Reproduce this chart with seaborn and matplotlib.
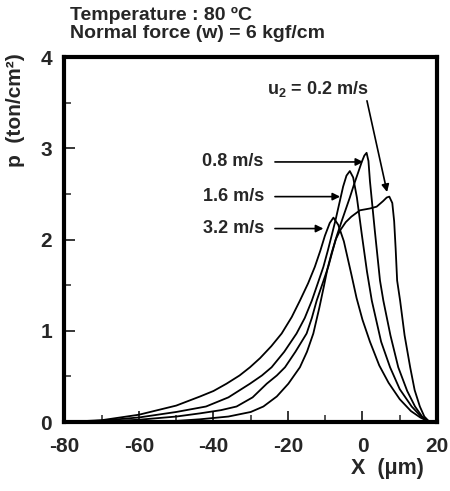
import matplotlib
matplotlib.use("Agg")
import matplotlib.pyplot as plt
from matplotlib.ticker import MultipleLocator
import pandas as pd
import seaborn as sns

# curves: x (um) and p (ton/cm2) per sliding speed
x_32 = [-80, -70, -60, -50, -43.6, -40, -36.5, -33, -30.2, -27.5, -24.5, -21.7, -19, -16.8, -14.6, -12.8,
        -11.3, -10.1, -8.8, -7.8, -6.5, -5, -3, -1.6, 0, 2, 4.5, 7, 10, 13, 15.5, 17.5]
p_32 = [0.0, 0.02, 0.08, 0.18, 0.28, 0.34, 0.42, 0.51, 0.60, 0.70, 0.83, 0.97, 1.15, 1.33, 1.52, 1.70,
        1.88, 2.04, 2.18, 2.24, 2.16, 1.98, 1.62, 1.36, 1.12, 0.88, 0.62, 0.43, 0.25, 0.12, 0.05, 0.01]

x_16 = [-80, -70, -60, -50, -42, -36, -30.2, -27, -24.4, -21, -17.7, -15.5, -13.6, -12, -10.5, -9.3, -8.3,
        -7.2, -6.2, -5.2, -4.3, -3.4, -2.5, -1.5, -0.2, 1.2, 2.5, 5, 7.4, 10, 13.2, 15.5, 17.5]
p_16 = [0.0, 0.015, 0.05, 0.11, 0.17, 0.27, 0.42, 0.51, 0.60, 0.77, 0.97, 1.14, 1.33, 1.52, 1.70, 1.88, 2.04,
        2.22, 2.40, 2.58, 2.70, 2.75, 2.68, 2.46, 2.06, 1.65, 1.33, 0.88, 0.60, 0.36, 0.17, 0.07, 0.01]

x_08 = [-80, -70, -60, -50, -43.6, -38, -33.8, -29.5, -25.7, -23, -20.8, -18, -15, -13.6, -12.3, -10.7,
        -9.2, -8, -6.9, -5.6, -4.5, -3.4, -2.3, -1.2, -0.2, 0.5, 1.1, 1.6, 2.0, 3.3, 4.7, 5.6, 7.5, 9.6, 12,
        14.1, 16, 17.7]
p_08 = [0.0, 0.007, 0.025, 0.06, 0.095, 0.13, 0.17, 0.27, 0.42, 0.51, 0.60, 0.77, 0.97, 1.14, 1.33, 1.52,
        1.70, 1.88, 2.04, 2.20, 2.33, 2.46, 2.60, 2.73, 2.85, 2.92, 2.95, 2.86, 2.64, 2.10, 1.55, 1.33, 0.95,
        0.60, 0.34, 0.17, 0.06, 0.01]

x_02 = [-80, -70, -60, -50, -43.6, -36, -30, -26.6, -23, -19.9, -16.8, -14.9, -13.2, -11.6, -10.4, -9.4,
        -8.3, -7.2, -6.0, -4.5, -3, -0.7, 2, 3.8, 5.5, 6.5, 7.2, 8.0, 8.5, 8.9, 9.3, 10.1, 11.3, 12.8, 14.0,
        15.4, 16.6, 18]
p_02 = [0.0, 0.0, 0.004, 0.012, 0.03, 0.06, 0.11, 0.17, 0.28, 0.42, 0.60, 0.77, 0.97, 1.25, 1.48, 1.68,
        1.85, 2.00, 2.10, 2.19, 2.25, 2.32, 2.34, 2.36, 2.42, 2.46, 2.47, 2.40, 2.20, 1.90, 1.55, 1.33, 0.95,
        0.60, 0.35, 0.17, 0.06, 0.0]

speed_labels = ["3.2 m/s", "1.6 m/s", "0.8 m/s"]
label_y = [2.12, 2.47, 2.85]
arrow_tip_x = [-10.5, -6.0, 0.2]

sns.set_theme(style="ticks")
plt.rcParams["font.family"] = ["Liberation Sans", "DejaVu Sans"]
plt.rcParams["axes.unicode_minus"] = False
plt.rcParams["mathtext.fontset"] = "custom"
plt.rcParams["mathtext.rm"] = "Liberation Sans:bold"
plt.rcParams["mathtext.it"] = "Liberation Sans:bold"
plt.rcParams["mathtext.bf"] = "Liberation Sans:bold"

frames = []
for name, xs, ps in [("3.2", x_32, p_32), ("1.6", x_16, p_16), ("0.8", x_08, p_08), ("0.2", x_02, p_02)]:
    frames.append(pd.DataFrame({"x": xs, "p": ps, "speed": name}))
df = pd.concat(frames, ignore_index=True)

fig = plt.figure(figsize=(4.5, 4.91), dpi=100)
ax = fig.add_axes([0.1433, 0.1405, 0.8278, 0.7434])

for speed, sub in df.groupby("speed", sort=False):
    sns.lineplot(data=sub, x="x", y="p", sort=False, color="black", lw=1.3, ax=ax, legend=False)

ax.set_xlim(-80, 20)
ax.set_ylim(0, 4)
ax.xaxis.set_major_locator(MultipleLocator(20))
ax.xaxis.set_minor_locator(MultipleLocator(10))
ax.yaxis.set_major_locator(MultipleLocator(1))
ax.yaxis.set_minor_locator(MultipleLocator(0.5))
ax.tick_params(axis="both", which="major", direction="in", length=8, width=1.3, labelsize=15)
ax.tick_params(axis="both", which="minor", direction="in", length=5, width=1.1)
ax.tick_params(axis="x", which="major", pad=11)
ax.tick_params(axis="y", which="major", pad=9)
for lab in ax.get_xticklabels() + ax.get_yticklabels():
    lab.set_fontweight("bold")
for side in ["left", "right", "top", "bottom"]:
    ax.spines[side].set_visible(True)
    ax.spines[side].set_linewidth(3)
    ax.spines[side].set_color("black")

ax.set_xlabel("X  (\u03bcm)", fontsize=15.5, fontweight="bold")
ax.set_ylabel("p  (ton/cm\u00b2)", fontsize=15, fontweight="bold")
ax.xaxis.set_label_coords(0.866, -0.099)
ax.yaxis.set_label_coords(-0.106, 0.855)

arrow_kw = dict(arrowstyle="-|>", color="black", lw=1.2, mutation_scale=11, shrinkA=0, shrinkB=0)
for lab, yv, tip in zip(speed_labels, label_y, arrow_tip_x):
    ax.text(-26.5, yv, lab, ha="right", va="center", fontsize=13, fontweight="bold")
    ax.annotate("", xy=(tip, yv), xytext=(-23.5, yv), arrowprops=arrow_kw)

ax.text(-12, 3.65, r"u$_\mathregular{2}$ = 0.2 m/s", ha="center", va="center", fontsize=13, fontweight="bold")
ax.annotate("", xy=(6.6, 2.52), xytext=(1.2, 3.52), arrowprops=arrow_kw)

fig.text(70 / 450, 1 - 15 / 491, "Temperature : 80 \u00baC", ha="left", va="center", fontsize=14, fontweight="bold")
fig.text(70 / 450, 1 - 34 / 491, "Normal force (w) = 6 kgf/cm", ha="left", va="center", fontsize=14, fontweight="bold")

fig.savefig("out.png", dpi=100)
